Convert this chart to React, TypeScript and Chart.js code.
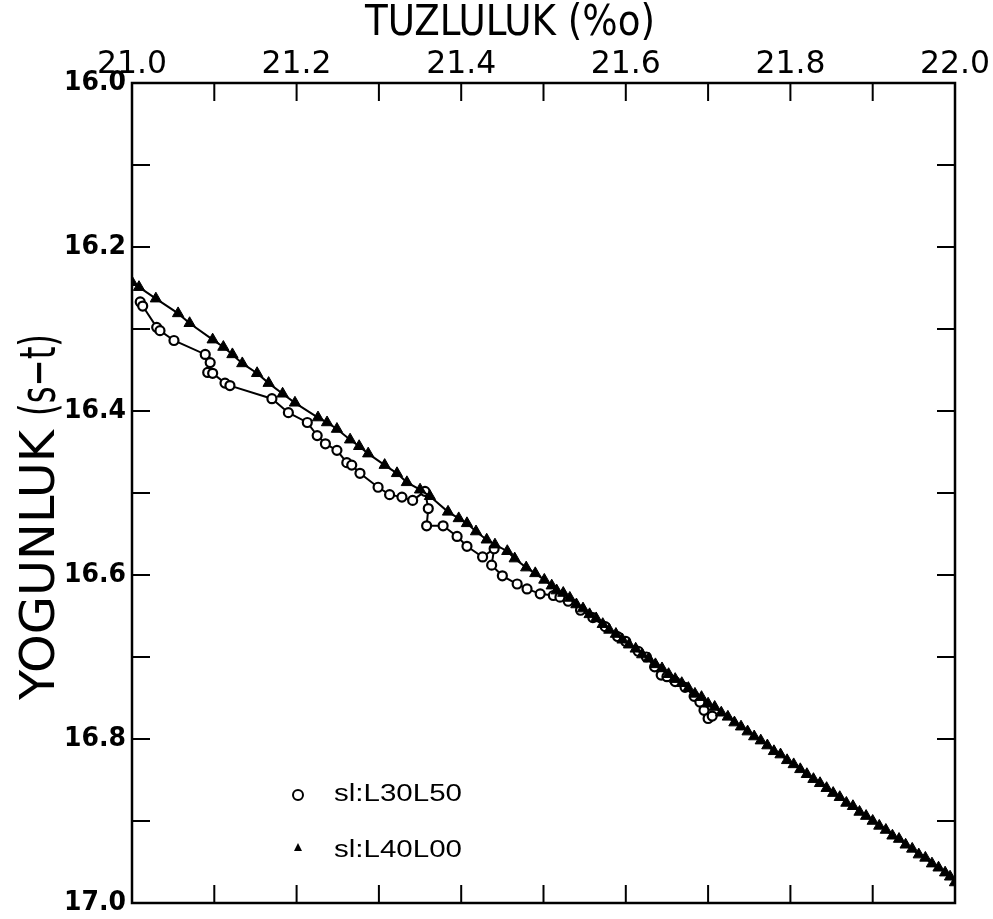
import React, { useEffect, useRef } from 'react';
import { Chart, registerables } from 'chart.js';
Chart.register(...registerables);

const seriesNames = ['sl:L30L50', 'sl:L40L00'];

const circleX = [
  21.010, 21.013, 21.030, 21.034, 21.051, 21.089, 21.095, 21.092, 21.098, 21.113, 21.119,
  21.170, 21.190, 21.213, 21.225, 21.235, 21.249, 21.261, 21.267, 21.277, 21.299, 21.313,
  21.328, 21.341, 21.356, 21.360, 21.358, 21.378, 21.395, 21.407, 21.426, 21.440, 21.437,
  21.450, 21.468, 21.480, 21.496, 21.512, 21.520, 21.530, 21.545, 21.560, 21.575, 21.590,
  21.600, 21.615, 21.625, 21.635, 21.643, 21.650, 21.660, 21.672, 21.683, 21.690, 21.695,
  21.700, 21.705,
];
const circleY = [
  16.267, 16.272, 16.298, 16.302, 16.314, 16.331, 16.341, 16.353, 16.354, 16.366, 16.369,
  16.385, 16.402, 16.414, 16.430, 16.440, 16.448, 16.463, 16.466, 16.476, 16.493, 16.502,
  16.505, 16.509, 16.498, 16.519, 16.540, 16.540, 16.553, 16.565, 16.578, 16.568, 16.588,
  16.601, 16.611, 16.617, 16.623, 16.625, 16.627, 16.632, 16.643, 16.652, 16.663, 16.675,
  16.681, 16.693, 16.700, 16.712, 16.722, 16.724, 16.730, 16.737, 16.748, 16.755, 16.765,
  16.775, 16.772,
];

const triangleX = [
  21.000, 21.0085, 21.029, 21.056, 21.070, 21.098, 21.111, 21.122, 21.134, 21.152, 21.166,
  21.183, 21.198, 21.226, 21.237, 21.249, 21.265, 21.276, 21.287, 21.307, 21.322, 21.334,
  21.350, 21.362, 21.384, 21.397, 21.407, 21.418, 21.431, 21.441, 21.456, 21.465, 21.479,
  21.490, 21.501, 21.510, 21.516, 21.524, 21.532, 21.540, 21.548, 21.556, 21.564, 21.572,
  21.580, 21.588, 21.596, 21.604, 21.612, 21.620, 21.628, 21.636, 21.644, 21.652, 21.660,
  21.668, 21.676, 21.684, 21.692, 21.700, 21.708, 21.716, 21.724, 21.732, 21.740, 21.748,
  21.756, 21.764, 21.772, 21.780, 21.788, 21.796, 21.804, 21.812, 21.820, 21.828, 21.836,
  21.844, 21.852, 21.860, 21.868, 21.876, 21.884, 21.892, 21.900, 21.908, 21.916, 21.924,
  21.932, 21.940, 21.948, 21.956, 21.964, 21.972, 21.980, 21.988, 21.994, 22.000,
];
const triangleY = [
  16.243, 16.249, 16.263, 16.281, 16.293, 16.313, 16.322, 16.331, 16.342, 16.354, 16.366,
  16.379, 16.390, 16.408, 16.414, 16.422, 16.435, 16.443, 16.452, 16.466, 16.476, 16.487,
  16.496, 16.504, 16.523, 16.531, 16.537, 16.547, 16.557, 16.563, 16.571, 16.580, 16.591,
  16.598, 16.606, 16.613, 16.619, 16.622, 16.628, 16.636, 16.641, 16.648, 16.653, 16.660,
  16.667, 16.672, 16.679, 16.685, 16.690, 16.697, 16.702, 16.709, 16.714, 16.721, 16.727,
  16.732, 16.738, 16.745, 16.749, 16.757, 16.761, 16.768, 16.773, 16.780, 16.785, 16.791,
  16.797, 16.802, 16.808, 16.815, 16.819, 16.826, 16.831, 16.837, 16.843, 16.849, 16.854,
  16.860, 16.866, 16.871, 16.878, 16.882, 16.889, 16.894, 16.900, 16.906, 16.911, 16.918,
  16.922, 16.929, 16.934, 16.941, 16.945, 16.952, 16.957, 16.963, 16.968, 16.975,
];

const xTickValues = [21.0, 21.1, 21.2, 21.3, 21.4, 21.5, 21.6, 21.7, 21.8, 21.9, 22.0];
const xLabelValues = [21.0, 21.2, 21.4, 21.6, 21.8, 22.0];
const xLabels = ['21.0', '21.2', '21.4', '21.6', '21.8', '22.0'];
const yTickValues = [16.0, 16.1, 16.2, 16.3, 16.4, 16.5, 16.6, 16.7, 16.8, 16.9, 17.0];
const yLabelValues = [16.0, 16.2, 16.4, 16.6, 16.8, 17.0];
const yLabels = ['16.0', '16.2', '16.4', '16.6', '16.8', '17.0'];
const xTitle = 'TUZLULUK (%o)';
const yTitleMain = 'YOGUNLUK';
const yTitleUnit = '(s\u2212t)';

const NARROW = '"Liberation Sans Narrow", "DejaVu Sans Condensed", "Liberation Sans", sans-serif';

function drawFitted(
  ctx: CanvasRenderingContext2D, text: string, x: number, y: number,
  font: string, width: number, align: CanvasTextAlign = 'center', rotate = 0,
) {
  ctx.save();
  ctx.font = font;
  const w = ctx.measureText(text).width;
  ctx.translate(x, y);
  if (rotate) ctx.rotate(rotate);
  ctx.scale(width / w, 1);
  ctx.textAlign = align;
  ctx.textBaseline = 'middle';
  ctx.fillStyle = '#000';
  ctx.fillText(text, 0, 0);
  ctx.restore();
}

const framePlugin = {
  id: 'framePlugin',
  afterDraw(chart: any) {
    const ctx: CanvasRenderingContext2D = chart.ctx;
    const { left, right, top, bottom } = chart.chartArea;
    const xs = chart.scales.x;
    const ys = chart.scales.y;
    ctx.save();
    ctx.strokeStyle = '#000';
    ctx.lineWidth = 2.5;
    ctx.strokeRect(left, top, right - left, bottom - top);
    ctx.lineWidth = 2;
    const tl = 18;
    ctx.beginPath();
    xTickValues.forEach((v) => {
      const px = xs.getPixelForValue(v);
      ctx.moveTo(px, top); ctx.lineTo(px, top + tl);
      ctx.moveTo(px, bottom); ctx.lineTo(px, bottom - tl);
    });
    yTickValues.forEach((v) => {
      const py = ys.getPixelForValue(v);
      ctx.moveTo(left, py); ctx.lineTo(left + tl, py);
      ctx.moveTo(right, py); ctx.lineTo(right - tl, py);
    });
    ctx.stroke();

    xLabelValues.forEach((v, i) => {
      drawFitted(ctx, xLabels[i], xs.getPixelForValue(v), top - 18, `32px ${NARROW}`, 70);
    });
    yLabelValues.forEach((v, i) => {
      drawFitted(ctx, yLabels[i], left - 6, ys.getPixelForValue(v), 'bold 26px "DejaVu Sans", sans-serif', 62, 'right');
    });
    drawFitted(ctx, xTitle, 510, 24, `42px ${NARROW}`, 290);
    drawFitted(ctx, yTitleMain, 42, 565, `48px ${NARROW}`, 270, 'center', -Math.PI / 2);
    drawFitted(ctx, yTitleUnit, 42, 375, `50px ${NARROW}`, 82, 'center', -Math.PI / 2);

    // legend
    ctx.lineWidth = 2;
    ctx.beginPath();
    ctx.arc(298, 795, 5, 0, Math.PI * 2);
    ctx.stroke();
    ctx.beginPath();
    ctx.moveTo(294, 851); ctx.lineTo(298, 843); ctx.lineTo(302, 851);
    ctx.closePath();
    ctx.fillStyle = '#000';
    ctx.fill();
    drawFitted(ctx, seriesNames[0], 334, 795, '23px "Liberation Sans", sans-serif', 128, 'left');
    drawFitted(ctx, seriesNames[1], 334, 851, '23px "Liberation Sans", sans-serif', 128, 'left');
    ctx.restore();
  },
};

export default function App() {
  const ref = useRef<HTMLCanvasElement>(null);
  useEffect(() => {
    if (!ref.current) return;
    const chart = new Chart(ref.current, {
      type: 'scatter',
      data: {
        datasets: [
          {
            label: seriesNames[1],
            data: triangleX.map((x, i) => ({ x, y: triangleY[i] })),
            showLine: true,
            borderColor: '#000',
            borderWidth: 2,
            pointStyle: 'triangle',
            pointRadius: 6.5,
            pointBackgroundColor: '#000',
            pointBorderColor: '#000',
            pointBorderWidth: 1,
          },
          {
            label: seriesNames[0],
            data: circleX.map((x, i) => ({ x, y: circleY[i] })),
            showLine: true,
            borderColor: '#000',
            borderWidth: 2,
            pointStyle: 'circle',
            pointRadius: 4.5,
            pointBackgroundColor: '#fff',
            pointBorderColor: '#000',
            pointBorderWidth: 2.2,
          },
        ],
      },
      options: {
        animation: false,
        responsive: true,
        maintainAspectRatio: false,
        layout: { padding: { left: 132, top: 83, right: 38, bottom: 16 } },
        scales: {
          x: { type: 'linear', min: 21, max: 22, display: false },
          y: { type: 'linear', min: 16, max: 17, reverse: true, display: false },
        },
        plugins: { legend: { display: false }, tooltip: { enabled: false } },
      },
      plugins: [framePlugin],
    });
    return () => chart.destroy();
  }, []);
  return (
    <div style={{ position: 'fixed', left: 0, top: 0, width: 993, height: 919, background: '#fff' }}>
      <canvas ref={ref} />
    </div>
  );
}
